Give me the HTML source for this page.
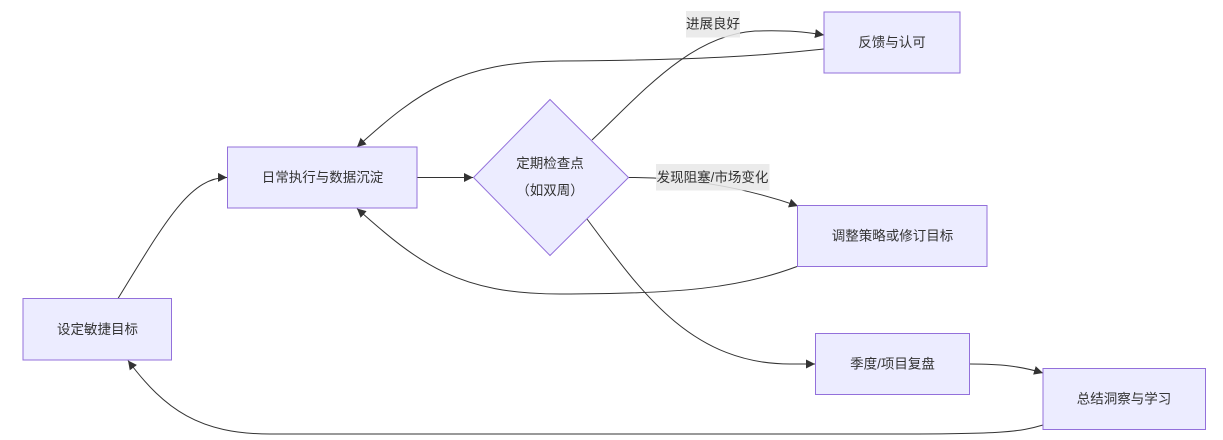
<!DOCTYPE html>
<html>
<head>
<meta charset="utf-8">
<style>
  html,body{margin:0;padding:0;background:#fff;}
  svg{display:block;}
  text{font-family:"Liberation Sans","Noto Sans CJK SC",sans-serif;font-size:13.5px;fill:#333;}
</style>
</head>
<body>
<svg width="1223" height="440" viewBox="0 0 1223 440" xmlns="http://www.w3.org/2000/svg">
  <defs>
    <marker id="arr" viewBox="0 0 10 10" refX="10" refY="5" markerUnits="userSpaceOnUse" markerWidth="9" markerHeight="9" orient="auto">
      <path d="M0,0 L10,5 L0,10 z" fill="#333"/>
    </marker>
  </defs>

  <g fill="none" stroke="#333" stroke-width="1">
    <!-- 设定 -> 日常 -->
    <path d="M118,298.5 C165,222 190,177 227,177.5" marker-end="url(#arr)"/>
    <!-- 日常 -> 检查点 -->
    <path d="M417,177.5 L473,177.5" marker-end="url(#arr)"/>
    <!-- 检查点 -> 反馈 (进展良好) -->
    <path d="M592,140 C640,95 690,35 755,31 C790,30 805,32 824,35" marker-end="url(#arr)"/>
    <!-- 检查点 -> 调整 -->
    <path d="M628,177.5 C680,177 740,186 798,206" marker-end="url(#arr)"/>
    <!-- 检查点 -> 季度 -->
    <path d="M587,219 C640,290 690,364 790,364 L815,364" marker-end="url(#arr)"/>
    <!-- 反馈 -> 日常 -->
    <path d="M824,49 C760,56 700,60 560,61 C460,62 420,90 357,147" marker-end="url(#arr)"/>
    <!-- 调整 -> 日常 -->
    <path d="M797,266.5 C740,288 680,294 560,294 C460,294 420,265 357,208.5" marker-end="url(#arr)"/>
    <!-- 季度 -> 总结 -->
    <path d="M970,364 C1000,364 1020,366 1043,373" marker-end="url(#arr)"/>
    <!-- 总结 -> 设定 -->
    <path d="M1043,425 C1020,432 1000,434 900,434 L270,434 C200,434 165,410 128,360.5" marker-end="url(#arr)"/>
  </g>

  <!-- Edge labels -->
  <rect x="686" y="11" width="54" height="26.5" fill="rgba(232,232,232,0.85)"/>
  <text x="713" y="24" text-anchor="middle" dominant-baseline="central">进展良好</text>
  <rect x="656" y="164" width="113.5" height="26.5" fill="rgba(232,232,232,0.85)"/>
  <text x="712.5" y="177.5" text-anchor="middle" dominant-baseline="central">发现阻塞/市场变化</text>

  <!-- Nodes -->
  <g fill="#ECECFF" stroke="#9370DB" stroke-width="1">
    <rect x="23" y="298.5" width="148.5" height="61.5"/>
    <rect x="227.5" y="147" width="189.5" height="61"/>
    <polygon points="550,99.5 628.5,177.5 550,255.5 473.5,177.5"/>
    <rect x="824" y="12" width="136" height="61"/>
    <rect x="797.5" y="205.5" width="189.5" height="61"/>
    <rect x="815.5" y="333.5" width="154" height="61"/>
    <rect x="1043" y="368.5" width="162.5" height="61"/>
  </g>

  <!-- Node labels -->
  <g text-anchor="middle" dominant-baseline="central">
    <text x="97.5" y="329.5">设定敏捷目标</text>
    <text x="322.5" y="177.5">日常执行与数据沉淀</text>
    <text x="550" y="163.5">定期检查点</text>
    <text x="550" y="190.5">（如双周）</text>
    <text x="892" y="42.5">反馈与认可</text>
    <text x="892.5" y="236">调整策略或修订目标</text>
    <text x="892.5" y="364">季度/项目复盘</text>
    <text x="1124" y="399">总结洞察与学习</text>
  </g>
</svg>
</body>
</html>
